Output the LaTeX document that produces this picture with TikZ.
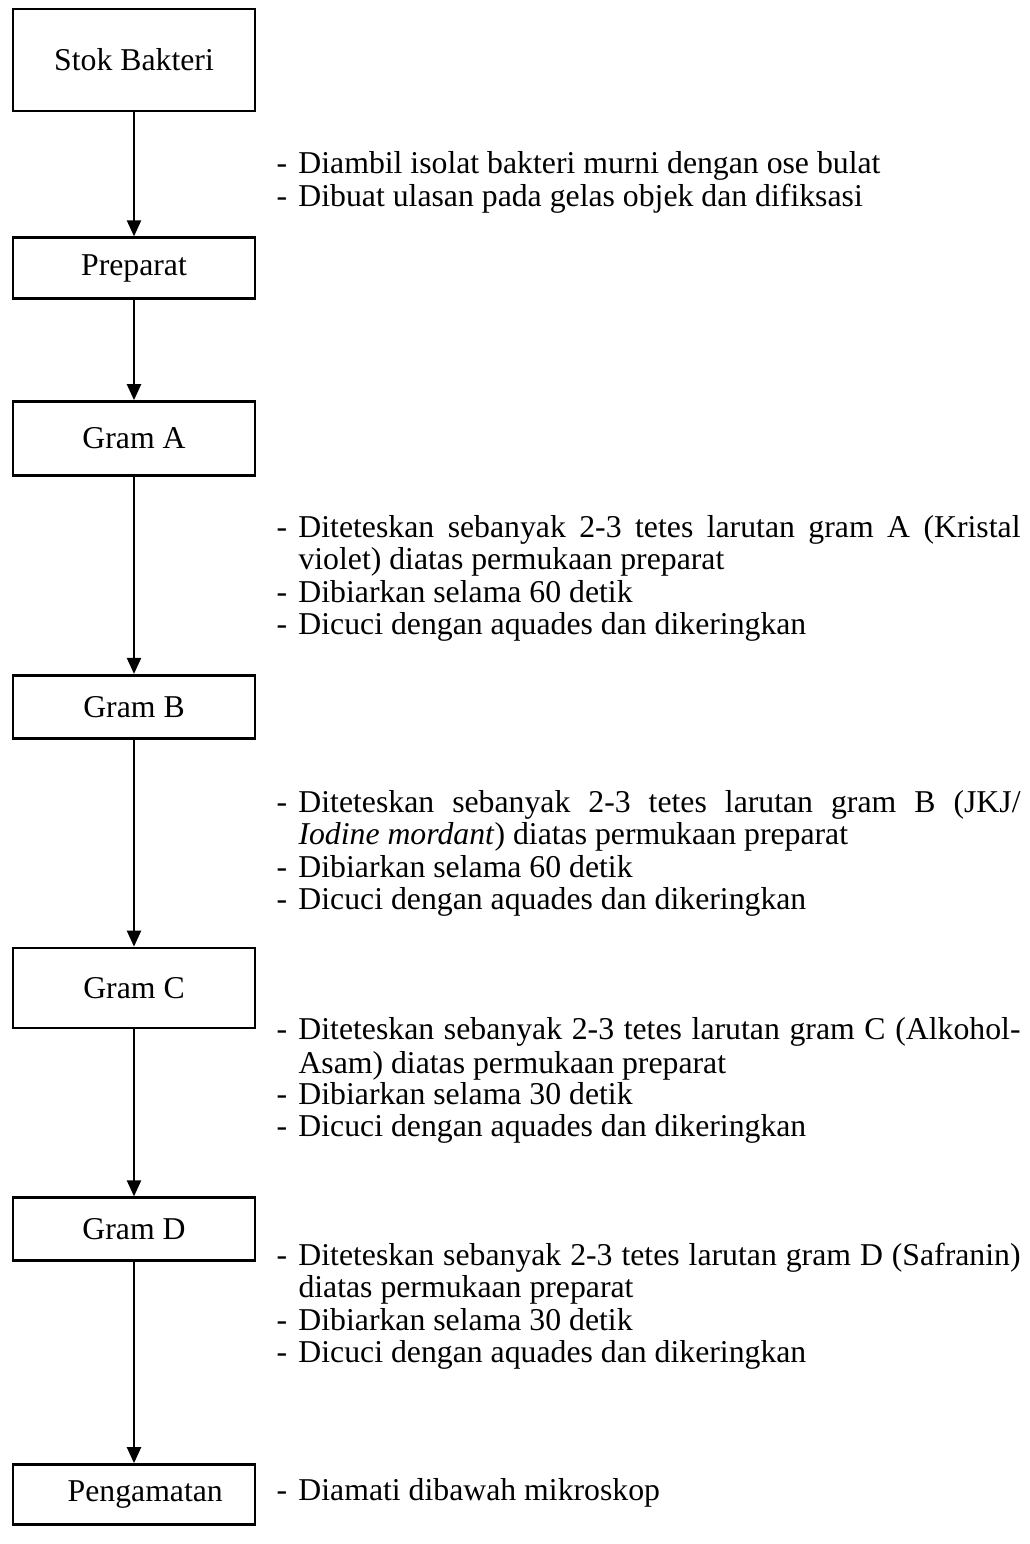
\documentclass[tikz,border=0pt]{standalone}
\usepackage{fontspec}
\setmainfont{Liberation Serif}
\usetikzlibrary{positioning,arrows.meta}

\newcommand{\butir}{\par\noindent\hangindent=8.8pt\hangafter=1\makebox[8.8pt][l]{-}}

\begin{document}
\begin{tikzpicture}[
  x=0.4pt, y=-0.4pt,
  every node/.style={font={\fontsize{12.7}{13}\selectfont}},
  tahap/.style={draw, line width=1.1pt, minimum width=96.8pt,
                inner sep=0pt, align=center},
  arr/.style={-{Triangle[width=5.6pt,length=6.4pt]}, line width=0.9pt},
  ket/.style={anchor=north west, inner sep=0pt, text width=297.6pt,
              align=justify,
              execute at begin node={\hyphenpenalty=10000
                \exhyphenpenalty=10000 \tolerance=9999}}
]
\useasboundingbox (0,0) rectangle (1030,1544);

%% --- Tahapan ---------------------------------------------------
\node[tahap, minimum height=40.8pt] (stok) at (134,60) {Stok Bakteri};
\node[tahap, minimum height=24.4pt, below=49.6pt of stok] (preparat) {Preparat};
\node[tahap, minimum height=29.6pt, below=40pt of preparat] (gramA) {Gram A};
\node[tahap, minimum height=25.2pt, below=78.8pt of gramA] (gramB) {Gram B};
\node[tahap, minimum height=32pt, below=82.8pt of gramB] (gramC) {Gram C};
\node[tahap, minimum height=25.2pt, below=66.8pt of gramC] (gramD) {Gram D};
\node[tahap, minimum height=24pt, below=80.4pt of gramD] (amat)
     {\hspace*{9pt}Pengamatan};

%% --- Panah -----------------------------------------------------
\draw[arr] (stok) -- (preparat);
\draw[arr] (preparat) -- (gramA);
\draw[arr] (gramA) -- (gramB);
\draw[arr] (gramB) -- (gramC);
\draw[arr] (gramC) -- (gramD);
\draw[arr] (gramD) -- (amat);

%% --- Keterangan ------------------------------------------------
\node[ket] (ket1) at (276,141)
  {\butir\strut Diambil isolat bakteri murni dengan ose bulat
   \butir Dibuat ulasan pada gelas objek dan difiksasi};

\node[ket] (ketA) at (276,504)
  {\butir\strut Diteteskan sebanyak 2-3 tetes larutan gram A (Kristal\linebreak
   violet) diatas permukaan preparat
   \butir Dibiarkan selama 60 detik
   \butir Dicuci dengan aquades dan dikeringkan};

\node[ket] (ketB) at (276,779)
  {\butir\strut Diteteskan sebanyak 2-3 tetes larutan gram B (JKJ/\linebreak
   \textit{Iodine mordant}) diatas permukaan preparat
   \butir Dibiarkan selama 60 detik
   \butir Dicuci dengan aquades dan dikeringkan};

\node[ket, font={\fontsize{12.7}{12.5}\selectfont}] (ketC) at (276,1008)
  {\butir\strut Diteteskan sebanyak 2-3 tetes larutan gram C (Alkohol-\linebreak
   Asam) diatas permukaan preparat
   \butir Dibiarkan selama 30 detik
   \butir Dicuci dengan aquades dan dikeringkan};

\node[ket] (ketD) at (276,1232)
  {\butir\strut Diteteskan sebanyak 2-3 tetes larutan gram D (Safranin)\linebreak
   diatas permukaan preparat
   \butir Dibiarkan selama 30 detik
   \butir Dicuci dengan aquades dan dikeringkan};

\node[ket] (ketE) at (276,1467)
  {\butir\strut Diamati dibawah mikroskop};

\end{tikzpicture}
\end{document}
